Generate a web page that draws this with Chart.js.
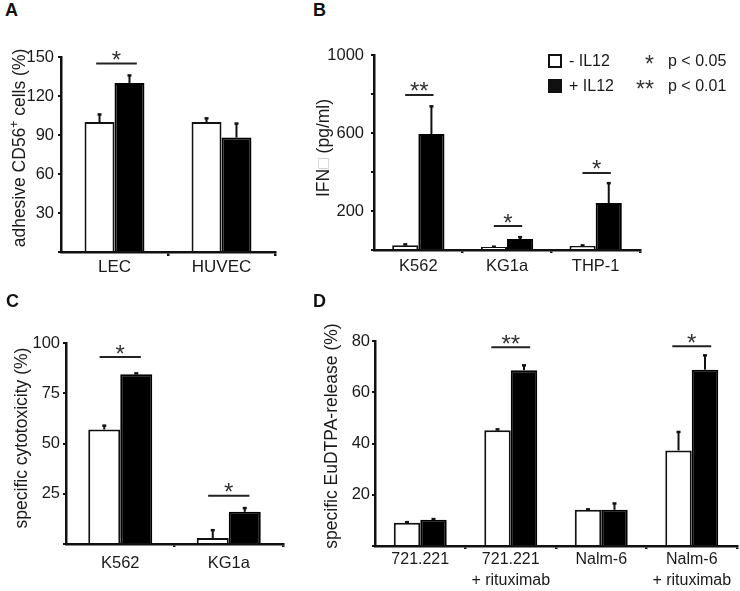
<!DOCTYPE html>
<html><head><meta charset="utf-8">
<script src="https://cdn.jsdelivr.net/npm/chart.js@4.4.1/dist/chart.umd.min.js"></script>
<style>
body{margin:0;background:#fff;width:740px;height:591px;position:relative;overflow:hidden;font-family:"Liberation Sans",Arial,sans-serif;color:#1a1a1a}
canvas{position:absolute}
.letter{position:absolute;font-weight:bold;font-size:18px;line-height:18px;color:#111}
.ytitle{position:absolute;white-space:nowrap;font-size:17.5px;line-height:20px;transform:translate(-50%,-50%) rotate(-90deg)}
.leg{position:absolute;font-size:16px;line-height:18px;white-space:nowrap}
.sq{position:absolute;width:10px;height:10px;border:2px solid #111}
</style></head><body>
<canvas id="cA" width="290" height="265" style="left:0;top:25px"></canvas>
<canvas id="cB" width="345" height="265" style="left:300px;top:25px"></canvas>
<canvas id="cC" width="295" height="301" style="left:0;top:290px"></canvas>
<canvas id="cD" width="440" height="301" style="left:300px;top:290px"></canvas>

<div class="letter" style="left:5px;top:1px">A</div>
<div class="letter" style="left:313px;top:1px">B</div>
<div class="letter" style="left:6px;top:292px">C</div>
<div class="letter" style="left:313px;top:292px">D</div>

<div class="ytitle" style="left:19px;top:148px">adhesive CD56<sup style="font-size:12px;line-height:0">+</sup> cells (%)</div>
<div class="ytitle" style="left:323px;top:148px">IFN<span style="color:#c8c8c8">□</span> (pg/ml)</div>
<div class="ytitle" style="left:21px;top:438px">specific cytotoxicity (%)</div>
<div class="ytitle" style="left:331px;top:436px">specific EuDTPA-release (%)</div>

<div class="sq" style="left:548px;top:54px;background:#fff"></div>
<div class="sq" style="left:548px;top:79px;background:#111"></div>
<div class="leg" style="left:569px;top:52px">- IL12</div>
<div class="leg" style="left:569px;top:77px">+ IL12</div>
<div class="leg" style="left:645px;top:52px"><span style="font-size:23px;position:relative;top:3px;color:#333">*</span></div>
<div class="leg" style="left:636px;top:77px"><span style="font-size:23px;position:relative;top:3px;color:#333">**</span></div>
<div class="leg" style="left:668px;top:52px">p &lt; 0.05</div>
<div class="leg" style="left:668px;top:77px">p &lt; 0.01</div>

<script>
// ---- Panel A ----
const catsA = ['LEC', 'HUVEC'];
const minusA = [100, 100];
const minusErrA = [6, 3];
const plusA = [130, 88];
const plusErrA = [6, 11];
const sigCatA = [0];
const sigYA = [145];
const sigTxtA = ['*'];
const ticksA = [30, 60, 90, 120, 150];

// ---- Panel B ----
const catsB = ['K562', 'KG1a', 'THP-1'];
const minusB = [25, 15, 20];
const minusErrB = [5, 3, 5];
const plusB = [595, 56, 241];
const plusErrB = [143, 11, 103];
const sigCatB = [0, 1, 2];
const sigYB = [795, 123, 395];
const sigTxtB = ['**', '*', '*'];
const ticksB = [200, 600, 1000];

// ---- Panel C ----
const catsC = ['K562', 'KG1a'];
const minusC = [57, 3];
const minusErrC = [2, 4];
const plusC = [84.5, 16];
const plusErrC = [0.5, 2];
const sigCatC = [0, 1];
const sigYC = [93, 24];
const sigTxtC = ['*', '*'];
const ticksC = [25, 50, 75, 100];

// ---- Panel D ----
const catsD = ['721.221', ['721.221', '+ rituximab'], 'Nalm-6', ['Nalm-6', '+ rituximab']];
const minusD = [9.1, 45.2, 14.1, 37.3];
const minusErrD = [0.3, 0.4, 0.3, 7.3];
const plusD = [10.2, 68.6, 14.1, 68.8];
const plusErrD = [0.4, 2.0, 2.6, 5.7];
const sigCatD = [1, 3];
const sigYD = [77.6, 78];
const sigTxtD = ['**', '*'];
const ticksD = [20, 40, 60, 80];

const FONT = '"Liberation Sans", Arial, sans-serif';
const INK = '#111';

const overlay = {
  id: 'overlay',
  afterDatasetsDraw(chart, args, opts) {
    const {ctx, scales: {x, y}} = chart;
    ctx.save();
    ctx.strokeStyle = INK; ctx.fillStyle = INK; ctx.lineWidth = 2;
    chart.data.datasets.forEach((ds, di) => {
      const meta = chart.getDatasetMeta(di);
      meta.data.forEach((bar, i) => {
        const e = ds.errors[i];
        if (!e) return;
        const top = y.getPixelForValue(ds.data[i] + e);
        ctx.beginPath();
        ctx.moveTo(bar.x, bar.y);
        ctx.lineTo(bar.x, top);
        ctx.stroke();
        ctx.fillRect(bar.x - 2, top - 1, 4, 2.5);
      });
    });
    const catW = x.width / chart.data.labels.length;
    ctx.lineWidth = 2;
    ctx.strokeStyle = '#222';
    ctx.fillStyle = '#333';
    ctx.font = '24px ' + FONT;
    ctx.textAlign = 'center';
    ctx.textBaseline = 'alphabetic';
    opts.cats.forEach((c, k) => {
      const cx = x.getPixelForValue(c) + opts.shift;
      const py = y.getPixelForValue(opts.ys[k]);
      const hw = catW * opts.half;
      ctx.beginPath();
      ctx.moveTo(cx - hw, py); ctx.lineTo(cx + hw, py);
      ctx.stroke();
      ctx.fillText(opts.txt[k], cx, py + 4.5);
    });
    ctx.restore();
  }
};

function panel(id, cfg) {
  const n = cfg.cats.length;
  new Chart(document.getElementById(id), {
    type: 'bar',
    data: {
      labels: cfg.cats,
      datasets: [
        {label: '- IL12', data: cfg.minus, errors: cfg.minusErr, backgroundColor: '#fff', borderColor: INK, borderWidth: 2,
         categoryPercentage: cfg.catPct, barPercentage: 1},
        {label: '+ IL12', data: cfg.plus, errors: cfg.plusErr, backgroundColor: '#000', borderColor: '#000', borderWidth: 2,
         categoryPercentage: cfg.catPct, barPercentage: 1}
      ]
    },
    options: {
      responsive: false, animation: false, devicePixelRatio: 1,
      layout: {padding: {left: 0, top: cfg.padTop, right: cfg.padRight, bottom: 0}},
      plugins: {legend: {display: false}, tooltip: {enabled: false},
        overlay: {cats: cfg.sigCat, ys: cfg.sigY, txt: cfg.sigTxt, half: cfg.half, shift: cfg.shift || 0}},
      scales: {
        x: {
          grid: {drawOnChartArea: false, drawTicks: true, tickLength: cfg.xTick, lineWidth: 2.5, offset: true,
                 color: c => (c.index === 0 || c.index === n) ? 'rgba(0,0,0,0)' : INK},
          border: {display: true, color: INK, width: 2.5},
          ticks: {color: '#1a1a1a', font: {size: cfg.xFont, family: FONT, lineHeight: 1.3}, padding: cfg.xPad, maxRotation: 0, autoSkip: false},
          afterFit: s => { s.height = cfg.xH; }
        },
        y: {
          min: 0, max: cfg.max,
          afterBuildTicks: s => { s.ticks = cfg.tickVals.map(v => ({value: v})).concat(cfg.extraTicks.map(v => ({value: v}))).sort((a, b) => a.value - b.value); },
          ticks: {color: '#1a1a1a', font: {size: 16.5, family: FONT}, padding: cfg.yPad,
                  callback: v => cfg.tickVals.includes(v) ? String(v) : ''},
          grid: {drawOnChartArea: false, drawTicks: true, tickLength: 3, lineWidth: 2, color: INK},
          border: {display: true, color: INK, width: 2.5},
          afterFit: s => { s.width = cfg.yW; }
        }
      }
    },
    plugins: [overlay]
  });
}

panel('cA', {cats: catsA, minus: minusA, minusErr: minusErrA, plus: plusA, plusErr: plusErrA,
  sigCat: sigCatA, sigY: sigYA, sigTxt: sigTxtA, half: 0.19, shift: 2,
  tickVals: ticksA, extraTicks: [0], max: 150, catPct: 0.56, xFont: 17,
  padTop: 32, padRight: 15, yW: 61, xH: 38, xTick: 4, xPad: 0, yPad: 4});

panel('cB', {cats: catsB, minus: minusB, minusErr: minusErrB, plus: plusB, plusErr: plusErrB,
  sigCat: sigCatB, sigY: sigYB, sigTxt: sigTxtB, half: 0.16, shift: 1,
  tickVals: ticksB, extraTicks: [0, 400, 800], max: 1000, catPct: 0.59, xFont: 16.5,
  padTop: 30, padRight: 5, yW: 74, xH: 40, xTick: 3, xPad: 3, yPad: 7});

panel('cC', {cats: catsC, minus: minusC, minusErr: minusErrC, plus: plusC, plusErr: plusErrC,
  sigCat: sigCatC, sigY: sigYC, sigTxt: sigTxtC, half: 0.19, shift: 0,
  tickVals: ticksC, extraTicks: [0], max: 100, catPct: 0.59, xFont: 16.5,
  padTop: 53, padRight: 12, yW: 66, xH: 47, xTick: 3, xPad: 6, yPad: 3});

panel('cD', {cats: catsD, minus: minusD, minusErr: minusErrD, plus: plusD, plusErr: plusErrD,
  sigCat: sigCatD, sigY: sigYD, sigTxt: sigTxtD, half: 0.215, shift: 0,
  tickVals: ticksD, extraTicks: [0], max: 80, catPct: 0.585, xFont: 16,
  padTop: 51, padRight: 3, yW: 75, xH: 45, xTick: 3, xPad: 0, yPad: 2});
</script>
</body></html>
